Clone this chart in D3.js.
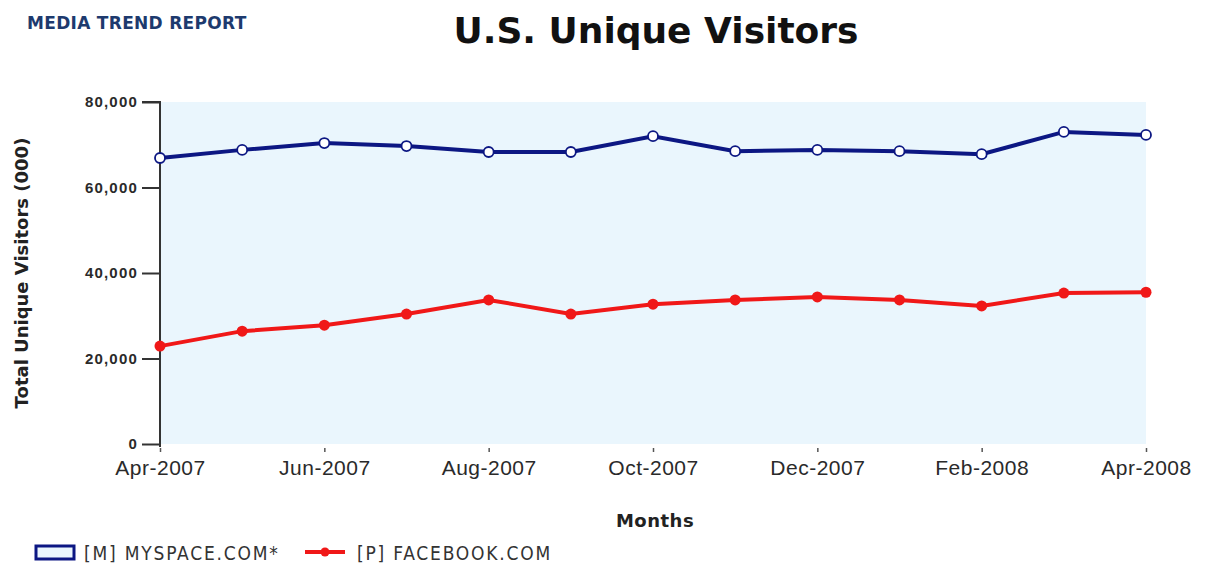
<!DOCTYPE html>
<html>
<head>
<meta charset="utf-8">
<script src="https://cdn.jsdelivr.net/npm/d3@7"></script>
<style>
  body { margin: 0; background: #fff; }
  svg { display: block; }
</style>
</head>
<body>
<div id="chart"></div>
<script>
const width = 1208;
const height = 566;
const margin = { top: 102, right: 62, bottom: 122, left: 160 };

// data (thousands)
const months = ["Apr-2007", "May-2007", "Jun-2007", "Jul-2007", "Aug-2007", "Sep-2007", "Oct-2007",
  "Nov-2007", "Dec-2007", "Jan-2008", "Feb-2008", "Mar-2008", "Apr-2008"];
const myspace = [66900, 68800, 70400, 69700, 68300, 68300, 72000, 68500, 68800, 68500, 67800, 73000, 72300];
const facebook = [22900, 26400, 27800, 30400, 33700, 30400, 32700, 33700, 34400, 33700, 32300, 35300, 35500];
const yTicks = [0, 20000, 40000, 60000, 80000];
const xLabels = ["Apr-2007", "Jun-2007", "Aug-2007", "Oct-2007", "Dec-2007", "Feb-2008", "Apr-2008"];

const svg = d3.select("#chart")
  .append("svg")
  .attr("width", width)
  .attr("height", height)
  .attr("font-family", "'DejaVu Sans', Verdana, sans-serif");

const x = d3.scalePoint().domain(months).range([margin.left, width - margin.right]);
const y = d3.scaleLinear().domain([0, 80000]).range([height - margin.bottom, margin.top]);

// light blue plot background
svg.append("rect")
  .attr("x", x(months[0]))
  .attr("y", y(80000))
  .attr("width", x(months[months.length - 1]) - x(months[0]))
  .attr("height", y(0) - y(80000))
  .attr("fill", "#eaf6fd");

// y axis
const yAxis = svg.append("g")
  .attr("transform", `translate(${margin.left},0)`)
  .call(d3.axisLeft(y).tickValues(yTicks).tickSize(18).tickPadding(4).tickFormat(d3.format(",")));
yAxis.select(".domain").attr("stroke", "#333").attr("stroke-width", 2).attr("d", `M-18,${y(80000)}H0V${y(0) + 3}`);
yAxis.selectAll(".tick line").attr("stroke", "#333").attr("stroke-width", 2);
yAxis.selectAll(".tick text")
  .attr("font-size", 15).attr("font-weight", "bold").attr("fill", "#2a2a2a")
  .attr("letter-spacing", 1.2);

// x axis
const xAxis = svg.append("g")
  .attr("transform", `translate(0,${y(0)})`)
  .call(d3.axisBottom(x).tickValues(xLabels).tickSize(0).tickPadding(16));
xAxis.select(".domain").remove();
xAxis.selectAll(".tick").append("line")
  .attr("y1", 4).attr("y2", 8).attr("stroke", "#555").attr("stroke-width", 1.5);
xAxis.selectAll(".tick text")
  .attr("font-size", 21).attr("fill", "#2a2a2a").attr("letter-spacing", 0.5);

// lines
const line = d3.line().x((d, i) => x(months[i])).y(d => y(d));

svg.append("path")
  .datum(myspace)
  .attr("d", line)
  .attr("fill", "none")
  .attr("stroke", "#0c1783")
  .attr("stroke-width", 4);

svg.append("path")
  .datum(facebook)
  .attr("d", line)
  .attr("fill", "none")
  .attr("stroke", "#f01818")
  .attr("stroke-width", 4);

svg.append("g").selectAll("circle")
  .data(myspace)
  .join("circle")
  .attr("cx", (d, i) => x(months[i]))
  .attr("cy", d => y(d))
  .attr("r", 5)
  .attr("fill", "#fff")
  .attr("stroke", "#0c1783")
  .attr("stroke-width", 1.8);

svg.append("g").selectAll("circle")
  .data(facebook)
  .join("circle")
  .attr("cx", (d, i) => x(months[i]))
  .attr("cy", d => y(d))
  .attr("r", 5.5)
  .attr("fill", "#f01818");

// titles
svg.append("text")
  .attr("x", 27).attr("y", 29)
  .attr("font-size", 17).attr("font-weight", "bold")
  .attr("fill", "#1d3a6e")
  .attr("letter-spacing", 0.3)
  .text("MEDIA TREND REPORT");

svg.append("text")
  .attr("x", 656).attr("y", 43)
  .attr("text-anchor", "middle")
  .attr("font-size", 36).attr("font-weight", "bold")
  .attr("fill", "#111")
  .text("U.S. Unique Visitors");

svg.append("text")
  .attr("x", 655).attr("y", 527)
  .attr("text-anchor", "middle")
  .attr("font-size", 18).attr("font-weight", "bold")
  .attr("fill", "#222")
  .attr("letter-spacing", 0.5)
  .text("Months");

svg.append("text")
  .attr("transform", `translate(28,${(y(0) + y(80000)) / 2}) rotate(-90)`)
  .attr("text-anchor", "middle")
  .attr("font-size", 18).attr("font-weight", "bold")
  .attr("fill", "#222")
  .text("Total Unique Visitors (000)");

// legend
const legend = svg.append("g").attr("font-family", "'DejaVu Sans Condensed', 'DejaVu Sans', sans-serif");
legend.append("rect")
  .attr("x", 36).attr("y", 546).attr("width", 38).attr("height", 13)
  .attr("fill", "#eaf6fd").attr("stroke", "#0c1783").attr("stroke-width", 3);
legend.append("text")
  .attr("x", 84).attr("y", 560)
  .attr("font-size", 19).attr("fill", "#333").attr("letter-spacing", 1.8)
  .text("[M] MYSPACE.COM*");
legend.append("line")
  .attr("x1", 305).attr("x2", 345).attr("y1", 552).attr("y2", 552)
  .attr("stroke", "#f01818").attr("stroke-width", 4);
legend.append("circle")
  .attr("cx", 325).attr("cy", 552).attr("r", 4.5).attr("fill", "#f01818");
legend.append("text")
  .attr("x", 357).attr("y", 560)
  .attr("font-size", 19).attr("fill", "#333").attr("letter-spacing", 1.8)
  .text("[P] FACEBOOK.COM");
</script>
</body>
</html>
